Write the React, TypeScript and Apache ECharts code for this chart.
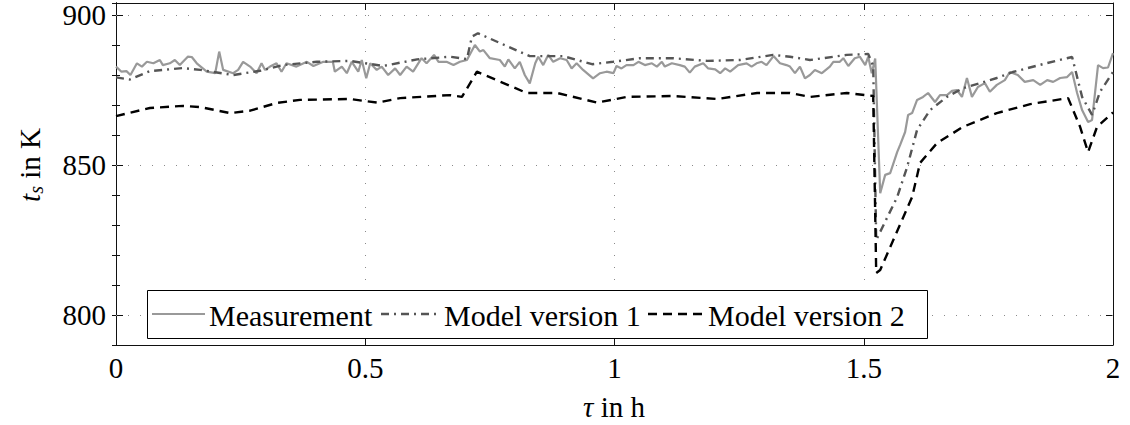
import React, { useEffect, useRef } from "react";
import * as echarts from "echarts";

const FONT = "Liberation Serif";

// x-axis tick labels and y-axis major ticks
const xTicks = [0, 0.5, 1, 1.5, 2];
const yMajor = [800, 850, 900];
const seriesNames = ["Measurement", "Model version 1", "Model version 2"];

// Measurement
const measT = [
  0.0, 0.011, 0.021, 0.029, 0.042, 0.052, 0.062, 0.075, 0.088, 0.094, 0.108, 0.118, 0.128, 0.144, 0.152, 0.162,
  0.182, 0.199, 0.207, 0.215, 0.235, 0.245, 0.255, 0.269, 0.282, 0.292, 0.299, 0.309, 0.322, 0.332, 0.342, 0.362,
  0.383, 0.396, 0.416, 0.435, 0.439, 0.453, 0.463, 0.473, 0.486, 0.493, 0.502, 0.51, 0.523, 0.533, 0.546, 0.56,
  0.57, 0.583, 0.596, 0.613, 0.623, 0.638, 0.647, 0.663, 0.677, 0.69, 0.704, 0.72, 0.73, 0.737, 0.75, 0.77, 0.78,
  0.787, 0.8, 0.81, 0.82, 0.83, 0.841, 0.847, 0.857, 0.867, 0.877, 0.891, 0.904, 0.914, 0.924, 0.937, 0.957, 0.971,
  0.984, 0.998, 1.004, 1.014, 1.024, 1.038, 1.048, 1.061, 1.075, 1.085, 1.095, 1.101, 1.115, 1.131, 1.141, 1.151,
  1.161, 1.178, 1.188, 1.202, 1.212, 1.222, 1.232, 1.248, 1.265, 1.275, 1.285, 1.295, 1.305, 1.319, 1.332, 1.345,
  1.352, 1.362, 1.372, 1.382, 1.392, 1.402, 1.416, 1.432, 1.439, 1.452, 1.459, 1.469, 1.482, 1.492, 1.503, 1.509,
  1.516, 1.523, 1.533, 1.543, 1.553, 1.567, 1.573, 1.583, 1.589, 1.597, 1.607, 1.619, 1.629, 1.643, 1.653, 1.667,
  1.677, 1.687, 1.697, 1.707, 1.717, 1.729, 1.743, 1.753, 1.767, 1.783, 1.793, 1.809, 1.823, 1.84, 1.854, 1.868,
  1.88, 1.894, 1.908, 1.918, 1.928, 1.938, 1.95, 1.958, 1.97, 1.98, 1.99, 2.0,
];
const measY = [
  882.8, 881.1, 881.3, 880.0, 883.9, 882.8, 884.4, 883.9, 885.0, 883.3, 883.9, 885.0, 883.3, 886.1, 886.0, 883.9,
  881.1, 880.6, 887.8, 881.7, 880.6, 881.7, 884.4, 882.8, 880.6, 883.9, 881.7, 882.8, 883.9, 881.1, 883.9, 882.8,
  884.4, 883.0, 884.4, 884.4, 881.1, 882.8, 880.6, 884.4, 881.1, 885.0, 878.9, 883.9, 881.7, 882.8, 880.0, 882.2,
  880.0, 882.8, 881.1, 885.6, 883.9, 886.7, 884.4, 884.4, 883.3, 884.4, 885.0, 890.0, 887.8, 888.3, 885.6, 885.0, 882.8,
  885.2, 882.2, 884.4, 880.0, 877.2, 883.9, 886.1, 883.3, 886.7, 884.4, 885.6, 885.0, 882.2, 883.9, 881.7, 878.9, 880.6,
  881.1, 880.6, 883.0, 882.2, 883.3, 883.3, 884.4, 883.3, 883.9, 882.8, 884.4, 882.8, 883.9, 883.3, 882.8, 880.8,
  882.8, 883.9, 882.2, 881.9, 880.6, 882.2, 881.1, 883.3, 883.9, 882.8, 883.9, 884.4, 883.3, 886.3, 883.9, 883.3,
  882.8, 880.6, 882.8, 878.9, 880.0, 881.7, 880.6, 882.8, 884.4, 884.4, 885.6, 883.0, 885.6, 886.1, 883.3, 886.1,
  880.6, 885.5, 840.6, 846.7, 847.3, 854.3, 856.7, 861.0, 866.7, 867.3, 871.7, 872.7, 874.0, 871.0, 873.3, 873.3,
  874.7, 875.0, 872.7, 879.0, 872.7, 876.0, 877.3, 874.4, 876.7, 878.3, 881.0, 880.0, 877.7, 878.3, 876.7, 878.3,
  877.7, 879.0, 879.3, 881.0, 874.0, 868.3, 864.3, 865.0, 883.3, 882.3, 882.5, 887.3,
];

// Model version 1
const v1T = [
  0.0, 0.028, 0.068, 0.134, 0.169, 0.235, 0.289, 0.335, 0.403, 0.469, 0.536, 0.604, 0.67, 0.704, 0.714, 0.726,
  0.83, 0.897, 0.955, 0.997, 1.051, 1.117, 1.186, 1.252, 1.318, 1.352, 1.392, 1.466, 1.509, 1.519, 1.525, 1.567,
  1.587, 1.607, 1.633, 1.667, 1.699, 1.767, 1.799, 1.868, 1.918, 1.938, 1.958, 1.974, 2.0,
];
const v1Y = [
  879.2, 878.5, 881.3, 882.3, 881.7, 880.0, 881.4, 883.3, 884.4, 884.7, 883.0, 885.2, 886.1, 885.3, 892.8, 893.9,
  886.3, 886.3, 883.6, 884.4, 885.6, 885.6, 884.7, 885.0, 886.7, 886.1, 885.0, 886.7, 887.0, 883.0, 825.0, 839.3,
  849.3, 861.7, 868.3, 872.7, 875.6, 879.0, 881.0, 884.0, 886.0, 872.7, 866.7, 874.4, 881.0,
];

// Model version 2
const v2T = [
  0.0, 0.068, 0.134, 0.169, 0.229, 0.269, 0.323, 0.369, 0.469, 0.524, 0.57, 0.67, 0.694, 0.724, 0.824, 0.885,
  0.965, 1.025, 1.117, 1.206, 1.286, 1.352, 1.392, 1.466, 1.519, 1.525, 1.533, 1.597, 1.613, 1.647, 1.699, 1.767,
  1.834, 1.91, 1.934, 1.95, 1.968, 2.0,
];
const v2Y = [
  866.3, 869.0, 869.7, 869.3, 867.3, 868.1, 870.7, 871.7, 872.0, 870.8, 872.3, 873.3, 872.7, 881.1, 874.0, 874.0,
  870.8, 872.7, 873.0, 872.0, 874.0, 874.0, 872.7, 874.0, 873.0, 814.0, 815.0, 839.3, 850.7, 857.3, 862.7, 867.3,
  870.3, 872.3, 862.7, 854.3, 862.7, 867.5,
];

const zip = (t: number[], y: number[]) => t.map((v, i) => [v, y[i]]);

const COLORS = ["#999999", "#555555", "#000000"];
const DASHES: any[] = ["solid", [8, 5, 2, 5], [9, 6]];
const WIDTHS = [2.2, 2.4, 2.4];

export default function App() {
  const ref = useRef<HTMLDivElement>(null);
  useEffect(() => {
    if (!ref.current) return;
    const chart = echarts.init(ref.current, null, { renderer: "svg" });
    const axisLine = { show: true, lineStyle: { color: "#111", width: 1 } };
    const gridDots = { show: true, lineStyle: { color: "#8a8a8a", width: 1, type: [1, 11] as any } };
    const yBase = { type: "value", min: 790, max: 904, axisLine, splitLine: { show: false } };

    // manual legend (box + samples + texts)
    const legBox = { x: 147, y: 290, w: 780, h: 48 };
    const legItems = [
      { x1: 152, x2: 205, tx: 209 },
      { x1: 381, x2: 440, tx: 444 },
      { x1: 648, x2: 703, tx: 708 },
    ];
    const cy = legBox.y + legBox.h / 2;
    const legendGraphics: any[] = [
      {
        type: "rect", z: 100,
        shape: { x: legBox.x + 0.5, y: legBox.y + 0.5, width: legBox.w, height: legBox.h },
        style: { fill: "#fff", stroke: "#000", lineWidth: 1 },
      },
    ];
    legItems.forEach((it, i) => {
      legendGraphics.push({
        type: "line", z: 101,
        shape: { x1: it.x1, y1: cy, x2: it.x2, y2: cy },
        style: {
          stroke: COLORS[i], lineWidth: WIDTHS[i],
          lineDash: DASHES[i] === "solid" ? null : DASHES[i],
        },
      });
      legendGraphics.push({
        type: "text", z: 101, x: it.tx, y: cy + 1,
        style: {
          text: seriesNames[i], fontFamily: FONT, fontSize: 30, fill: "#000",
          align: "left", verticalAlign: "middle",
        },
      });
    });

    chart.setOption({
      animation: false,
      backgroundColor: "#fff",
      textStyle: { fontFamily: FONT },
      grid: { left: 116, right: 17, top: 3, bottom: 80, containLabel: false },
      xAxis: [
        {
          type: "value", position: "bottom", min: 0, max: 2, interval: 0.5,
          axisLine,
          axisTick: { show: true, inside: true, length: 7, lineStyle: { color: "#111" } },
          axisLabel: {
            show: true, margin: 8, color: "#000", fontFamily: FONT, fontSize: 29,
            formatter: (v: number) => (xTicks.includes(v) ? String(v) : ""),
          },
          splitLine: { ...gridDots, showMinLine: false, showMaxLine: false },
        },
        {
          type: "value", position: "top", min: 0, max: 2, interval: 0.5,
          axisLine,
          axisTick: { show: true, inside: true, length: 7, lineStyle: { color: "#111" } },
          axisLabel: { show: false },
          splitLine: { show: false },
        },
      ],
      yAxis: [
        {
          ...yBase, position: "left", interval: 10,
          axisTick: { show: true, inside: true, length: 4, lineStyle: { color: "#111" } },
          axisLabel: { show: false },
        },
        {
          ...yBase, position: "right", interval: 10,
          axisTick: { show: true, inside: true, length: 4, lineStyle: { color: "#111" } },
          axisLabel: { show: false },
        },
        {
          ...yBase, position: "left",
          axisTick: { show: true, inside: true, length: 7, customValues: yMajor, lineStyle: { color: "#111" } },
          axisLabel: { show: true, customValues: yMajor, margin: 10, color: "#000", fontFamily: FONT, fontSize: 29 },
        },
        {
          ...yBase, position: "right",
          axisTick: { show: true, inside: true, length: 7, customValues: yMajor, lineStyle: { color: "#111" } },
          axisLabel: { show: false },
        },
      ],
      graphic: [
        ...legendGraphics,
        {
          type: "text", x: 614, y: 407,
          style: {
            text: "{i|τ} in h", align: "center", verticalAlign: "middle",
            fontFamily: FONT, fontSize: 29, fill: "#000",
            rich: { i: { fontFamily: FONT, fontSize: 29, fontStyle: "italic" } },
          },
        },
        {
          type: "text", x: 30, y: 165, rotation: Math.PI / 2,
          style: {
            text: "{i|t}{s|s} in K", align: "center", verticalAlign: "middle",
            fontFamily: FONT, fontSize: 29, fill: "#000",
            rich: {
              i: { fontFamily: FONT, fontSize: 29, fontStyle: "italic" },
              s: { fontFamily: FONT, fontSize: 20, fontStyle: "italic", padding: [12, 0, 0, 0] },
            },
          },
        },
      ],
      series: [
        {
          name: seriesNames[0], type: "line", symbol: "none", showSymbol: false,
          data: zip(measT, measY),
          lineStyle: { color: COLORS[0], width: WIDTHS[0] }, itemStyle: { color: COLORS[0] },
          markLine: {
            silent: true, symbol: ["none", "none"], label: { show: false },
            lineStyle: { color: "#8a8a8a", width: 1, type: [1, 11] as any },
            data: yMajor.map((v) => ({ yAxis: v })),
          },
        },
        {
          name: seriesNames[1], type: "line", symbol: "none", showSymbol: false,
          data: zip(v1T, v1Y),
          lineStyle: { color: COLORS[1], width: WIDTHS[1], type: DASHES[1] }, itemStyle: { color: COLORS[1] },
        },
        {
          name: seriesNames[2], type: "line", symbol: "none", showSymbol: false,
          data: zip(v2T, v2Y),
          lineStyle: { color: COLORS[2], width: WIDTHS[2], type: DASHES[2] }, itemStyle: { color: COLORS[2] },
        },
      ],
    });
    return () => chart.dispose();
  }, []);
  return <div ref={ref} style={{ position: "fixed", left: 0, top: 0, width: 1130, height: 425 }} />;
}
